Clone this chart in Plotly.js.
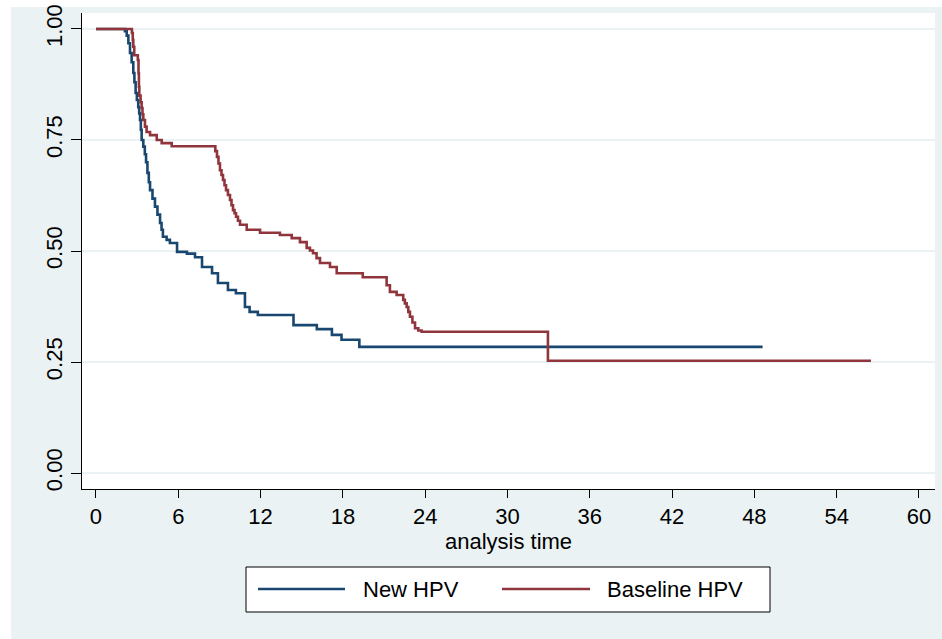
<!DOCTYPE html>
<html>
<head>
<meta charset="utf-8">
<script src="https://cdn.plot.ly/plotly-3.0.1.min.js"></script>
<style>html,body{margin:0;padding:0;background:#fff;}#chart{width:942px;height:639px;}</style>
</head>
<body>
<div id="chart"></div>
<script>
// Kaplan-Meier survival estimates
const newHpvTime = [0, 2.11, 2.24, 2.36, 2.48, 2.60, 2.72, 2.80, 2.89, 2.98, 3.08, 3.15, 3.21, 3.27, 3.33, 3.45, 3.56, 3.65, 3.75, 3.85, 3.94, 4.12, 4.30, 4.48, 4.67, 4.78, 4.88, 5.15, 5.39, 5.91, 6.63, 7.22, 7.73, 8.46, 8.89, 9.62, 10.2, 10.86, 11.2, 11.8, 14.4, 16.1, 17.2, 17.9, 19.2, 48.6];
const newHpvSurv = [1.000, 0.995, 0.985, 0.968, 0.946, 0.925, 0.901, 0.880, 0.856, 0.840, 0.824, 0.810, 0.795, 0.773, 0.750, 0.735, 0.718, 0.700, 0.676, 0.655, 0.637, 0.618, 0.600, 0.582, 0.563, 0.548, 0.532, 0.525, 0.518, 0.498, 0.494, 0.486, 0.464, 0.450, 0.428, 0.412, 0.405, 0.374, 0.363, 0.356, 0.333, 0.324, 0.311, 0.300, 0.284, 0.284];

const baseHpvTime = [0, 2.62, 2.68, 2.72, 2.79, 3.05, 3.10, 3.13, 3.16, 3.25, 3.33, 3.39, 3.45, 3.57, 3.69, 3.94, 4.43, 4.79, 5.52, 8.70, 8.82, 8.93, 9.04, 9.15, 9.26, 9.37, 9.48, 9.62, 9.77, 9.88, 9.99, 10.10, 10.21, 10.35, 10.5, 10.99, 11.96, 13.41, 14.27, 14.87, 15.36, 15.60, 15.82, 16.08, 16.33, 17.06, 17.55, 19.45, 21.19, 21.43, 21.92, 22.40, 22.52, 22.65, 22.77, 22.89, 23.07, 23.26, 23.50, 23.74, 32.95, 56.5];
const baseHpvSurv = [1.000, 0.991, 0.975, 0.960, 0.941, 0.930, 0.900, 0.870, 0.850, 0.835, 0.822, 0.808, 0.795, 0.780, 0.768, 0.761, 0.750, 0.743, 0.736, 0.725, 0.712, 0.697, 0.682, 0.671, 0.660, 0.648, 0.637, 0.626, 0.615, 0.603, 0.592, 0.585, 0.577, 0.568, 0.559, 0.548, 0.541, 0.536, 0.529, 0.520, 0.507, 0.501, 0.495, 0.484, 0.473, 0.464, 0.450, 0.441, 0.423, 0.408, 0.401, 0.390, 0.382, 0.374, 0.363, 0.352, 0.339, 0.326, 0.321, 0.318, 0.253, 0.253];

const seriesNames = ["New HPV", "Baseline HPV"];
const xTickVals = [0, 6, 12, 18, 24, 30, 36, 42, 48, 54, 60];
const yTickVals = [0, 0.25, 0.5, 0.75, 1];
const yTickText = ["0.00", "0.25", "0.50", "0.75", "1.00"];
const xTitle = "analysis time";

const blue = "#1a476f";
const red = "#90353b";
const bgLight = "#eaf2f3";
const FONT = "Arial, 'Liberation Sans', sans-serif";

const traces = [
  {x: newHpvTime, y: newHpvSurv, name: seriesNames[0], type: "scatter", mode: "lines",
   line: {shape: "hv", color: blue, width: 2.6}, showlegend: false},
  {x: baseHpvTime, y: baseHpvSurv, name: seriesNames[1], type: "scatter", mode: "lines",
   line: {shape: "hv", color: red, width: 2.6}, showlegend: false}
];

// plot area in px: left 82, right 935, top 13, bottom 489
const L = 82, R = 935, T = 13, B = 489;
const W = R - L, H = B - T;
const px = v => (v - L) / W;
const py = v => (B - v) / H;

const shapes = [
  {type: "rect", xref: "paper", yref: "paper", layer: "below",
   x0: px(11), x1: px(942), y0: py(639), y1: py(7), fillcolor: bgLight, line: {width: 0}},
  {type: "rect", xref: "paper", yref: "paper", layer: "below",
   x0: 0, x1: 1, y0: 0, y1: 1, fillcolor: "#ffffff", line: {width: 0}},
  // legend box
  {type: "rect", xref: "paper", yref: "paper",
   x0: px(246), x1: px(770), y0: py(612), y1: py(567), fillcolor: "#ffffff", line: {color: "#000000", width: 1}},
  {type: "line", xref: "paper", yref: "paper",
   x0: px(258), x1: px(345), y0: py(589), y1: py(589), line: {color: blue, width: 2.6}},
  {type: "line", xref: "paper", yref: "paper",
   x0: px(502), x1: px(590), y0: py(589), y1: py(589), line: {color: red, width: 2.6}}
];

const annotations = [
  {xref: "paper", yref: "paper", x: px(361), y: py(589), xanchor: "left", yanchor: "middle",
   text: seriesNames[0], showarrow: false, font: {family: FONT, size: 22, color: "#000"}},
  {xref: "paper", yref: "paper", x: px(605), y: py(589), xanchor: "left", yanchor: "middle",
   text: seriesNames[1], showarrow: false, font: {family: FONT, size: 22, color: "#000"}}
];

const layout = {
  width: 942, height: 639,
  margin: {l: L, r: 942 - R, t: T, b: 639 - B, pad: 0},
  paper_bgcolor: "#ffffff",
  plot_bgcolor: "#ffffff",
  font: {family: FONT, size: 22, color: "#000"},
  showlegend: false,
  xaxis: {
    range: [-1.02, 61.17], tickmode: "array", tickvals: xTickVals,
    showline: true, linecolor: "#000", linewidth: 1, mirror: false,
    ticks: "outside", ticklen: 8, tickwidth: 1, tickcolor: "#000",
    showgrid: false, zeroline: false,
    tickfont: {family: FONT, size: 22, color: "#000"},
    title: {text: xTitle, font: {family: FONT, size: 22, color: "#000"}, standoff: 2}
  },
  yaxis: {
    range: [-0.036, 1.036], tickmode: "array", tickvals: yTickVals, ticktext: yTickText,
    tickangle: -90,
    showline: true, linecolor: "#000", linewidth: 1,
    ticks: "outside", ticklen: 10, tickwidth: 1, tickcolor: "#000",
    showgrid: true, gridcolor: bgLight, gridwidth: 2, zeroline: false,
    tickfont: {family: FONT, size: 22, color: "#000"}
  },
  shapes: shapes,
  annotations: annotations
};

Plotly.newPlot("chart", traces, layout, {displayModeBar: false, staticPlot: true});
</script>
</body>
</html>
